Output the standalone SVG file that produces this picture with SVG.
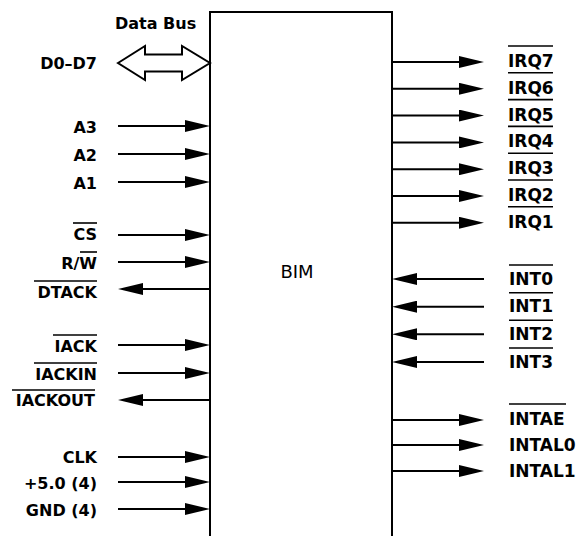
<svg xmlns="http://www.w3.org/2000/svg" width="581" height="536" viewBox="0 0 581 536">
<style>
text{font-family:"DejaVu Sans","Liberation Sans",sans-serif;font-weight:bold;font-size:16px;fill:#000}
.l{text-anchor:end}
.r{font-size:17px}
.ov{stroke:#000;stroke-width:1.6;fill:none}
.w{stroke:#000;stroke-width:2;fill:none}
.bim{font-weight:normal;font-size:18px;text-anchor:middle}
</style>
<defs>
<marker id="ah" viewBox="0 0 25 12" refX="15" refY="6" markerWidth="25" markerHeight="12" markerUnits="userSpaceOnUse" orient="auto">
<path d="M0,0 L25,6 L0,12 z" fill="#000"/>
</marker>
</defs>
<rect width="581" height="536" fill="#fff"/>
<g id="bim">
<path class="w" d="M210,537 V12 H392 V537"/>
<text class="bim" x="297" y="278">BIM</text>
</g>
<g id="connectors" class="w" marker-end="url(#ah)">
<line x1="118" y1="126" x2="200" y2="126"/>
<line x1="118" y1="154" x2="200" y2="154"/>
<line x1="118" y1="182" x2="200" y2="182"/>
<line x1="118" y1="235" x2="200" y2="235"/>
<line x1="118" y1="262" x2="200" y2="262"/>
<line x1="210" y1="289" x2="128" y2="289"/>
<line x1="118" y1="345" x2="200" y2="345"/>
<line x1="118" y1="373" x2="200" y2="373"/>
<line x1="210" y1="400" x2="128" y2="400"/>
<line x1="118" y1="457" x2="200" y2="457"/>
<line x1="118" y1="482" x2="200" y2="482"/>
<line x1="118" y1="509" x2="200" y2="509"/>
<line x1="392" y1="62" x2="474" y2="62"/>
<line x1="392" y1="88.8" x2="474" y2="88.8"/>
<line x1="392" y1="115.6" x2="474" y2="115.6"/>
<line x1="392" y1="142.4" x2="474" y2="142.4"/>
<line x1="392" y1="169.2" x2="474" y2="169.2"/>
<line x1="392" y1="196" x2="474" y2="196"/>
<line x1="392" y1="222.8" x2="474" y2="222.8"/>
<line x1="484" y1="279" x2="402" y2="279"/>
<line x1="484" y1="306.7" x2="402" y2="306.7"/>
<line x1="484" y1="334.3" x2="402" y2="334.3"/>
<line x1="484" y1="362" x2="402" y2="362"/>
<line x1="392" y1="420" x2="474" y2="420"/>
<line x1="392" y1="445" x2="474" y2="445"/>
<line x1="392" y1="471" x2="474" y2="471"/>
</g>
<g id="databus">
<text x="115" y="29">Data Bus</text>
<text class="l" x="97" y="69">D0–D7</text>
<polygon fill="#fff" stroke="#000" stroke-width="2" stroke-linejoin="miter" points="118,63 145,46 145,54.5 182,54.5 182,46 210,63 182,80 182,71.5 145,71.5 145,80"/>
</g>
<g id="a3"><text class="l" x="97" y="133">A3</text></g>
<g id="a2"><text class="l" x="97" y="161">A2</text></g>
<g id="a1"><text class="l" x="97" y="189">A1</text></g>
<g id="cs"><text class="l" x="97" y="240">CS</text><line class="ov" x1="73" y1="223" x2="97" y2="223"/></g>
<g id="rw"><text class="l" x="97" y="269">R/W</text><line class="ov" x1="80" y1="252" x2="97" y2="252"/></g>
<g id="dtack"><text class="l" x="97" y="298">DTACK</text><line class="ov" x1="34" y1="281" x2="97" y2="281"/></g>
<g id="iack"><text class="l" x="97" y="352">IACK</text><line class="ov" x1="53" y1="335" x2="97" y2="335"/></g>
<g id="iackin"><text class="l" x="97" y="380">IACKIN</text><line class="ov" x1="34" y1="363" x2="97" y2="363"/></g>
<g id="iackout"><text class="l" x="95" y="406">IACKOUT</text><line class="ov" x1="12" y1="390" x2="95" y2="390"/></g>
<g id="clk"><text class="l" x="97" y="463">CLK</text></g>
<g id="vcc"><text class="l" x="97" y="489">+5.0 (4)</text></g>
<g id="gnd"><text class="l" x="97" y="516">GND (4)</text></g>
<g id="irq7"><text class="r" x="508" y="67">IRQ7</text><line class="ov" x1="508" y1="46" x2="553" y2="46"/></g>
<g id="irq6"><text class="r" x="508" y="93.8">IRQ6</text><line class="ov" x1="508" y1="72.8" x2="553" y2="72.8"/></g>
<g id="irq5"><text class="r" x="508" y="120.6">IRQ5</text><line class="ov" x1="508" y1="99.6" x2="553" y2="99.6"/></g>
<g id="irq4"><text class="r" x="508" y="147.4">IRQ4</text><line class="ov" x1="508" y1="126.4" x2="553" y2="126.4"/></g>
<g id="irq3"><text class="r" x="508" y="174.2">IRQ3</text><line class="ov" x1="508" y1="153.2" x2="553" y2="153.2"/></g>
<g id="irq2"><text class="r" x="508" y="201">IRQ2</text><line class="ov" x1="508" y1="180" x2="553" y2="180"/></g>
<g id="irq1"><text class="r" x="508" y="227.8">IRQ1</text><line class="ov" x1="508" y1="206.8" x2="553" y2="206.8"/></g>
<g id="int0"><text class="r" x="509" y="284.5">INT0</text><line class="ov" x1="509" y1="265" x2="553" y2="265"/></g>
<g id="int1"><text class="r" x="509" y="312.2">INT1</text><line class="ov" x1="509" y1="292.7" x2="553" y2="292.7"/></g>
<g id="int2"><text class="r" x="509" y="339.8">INT2</text><line class="ov" x1="509" y1="320.3" x2="553" y2="320.3"/></g>
<g id="int3"><text class="r" x="509" y="367.5">INT3</text><line class="ov" x1="509" y1="348" x2="553" y2="348"/></g>
<g id="intae"><text class="r" x="509" y="425">INTAE</text><line class="ov" x1="509" y1="404" x2="566" y2="404"/></g>
<g id="intal0"><text class="r" x="509" y="450.5">INTAL0</text></g>
<g id="intal1"><text class="r" x="509" y="476.5">INTAL1</text></g>
</svg>
